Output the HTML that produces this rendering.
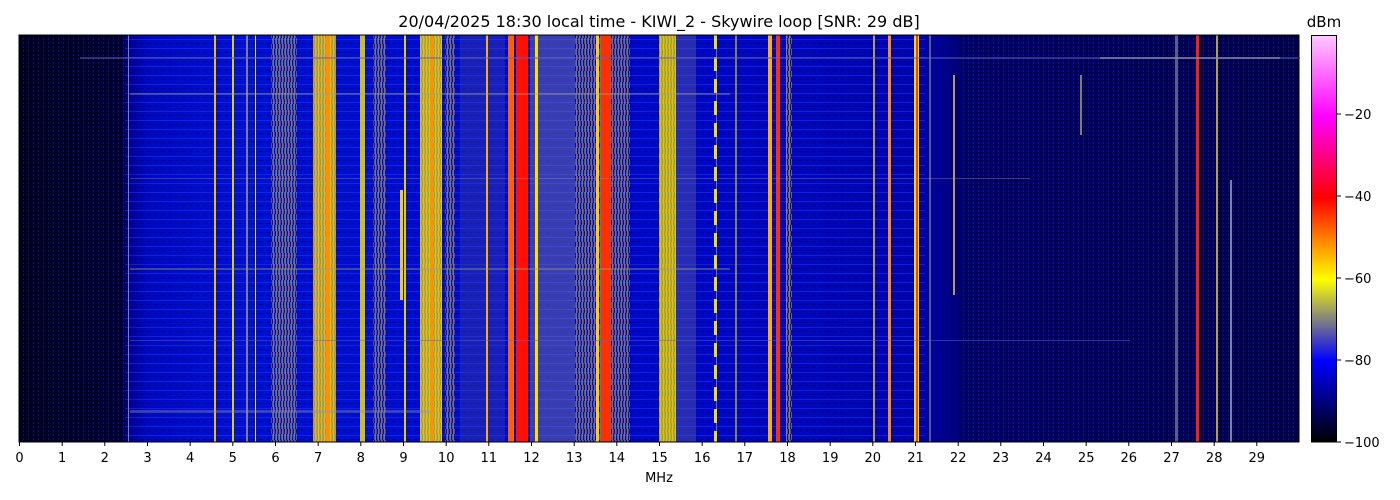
<!DOCTYPE html>
<html><head><meta charset="utf-8"><style>
body{margin:0;background:#fff;}
svg{display:block;font-family:"DejaVu Sans","Liberation Sans",sans-serif;}
</style></head><body>
<svg width="1400" height="500" viewBox="0 0 1400 500" xmlns="http://www.w3.org/2000/svg">
<defs>
<linearGradient id="bg" x1="0" x2="1" y1="0" y2="0">
<stop offset="0" stop-color="#000024"/>
<stop offset="0.08" stop-color="#000038"/>
<stop offset="0.085" stop-color="#000090"/>
<stop offset="0.1" stop-color="#0008c0"/>
<stop offset="0.17" stop-color="#0010d0"/>
<stop offset="0.5" stop-color="#0008c8"/>
<stop offset="0.7" stop-color="#0004b0"/>
<stop offset="0.74" stop-color="#000070"/>
<stop offset="0.9" stop-color="#00005c"/>
<stop offset="1" stop-color="#000050"/>
</linearGradient>
<linearGradient id="cb" x1="0" x2="0" y1="1" y2="0">
<stop offset="0" stop-color="#000000"/>
<stop offset="0.1" stop-color="#000080"/>
<stop offset="0.2" stop-color="#0000ff"/>
<stop offset="0.3" stop-color="#808080"/>
<stop offset="0.4" stop-color="#ffff00"/>
<stop offset="0.5" stop-color="#ff8000"/>
<stop offset="0.6" stop-color="#ff0000"/>
<stop offset="0.8" stop-color="#ff00ff"/>
<stop offset="1" stop-color="#ffc8ff"/>
</linearGradient>
<pattern id="hs" width="7" height="9" patternUnits="userSpaceOnUse">
<rect x="0" y="3" width="7" height="1" fill="#3050ff" opacity="0.35"/>
<rect x="0" y="7" width="4" height="1" fill="#000" opacity="0.3"/>
</pattern>
<pattern id="nz" width="5" height="4" patternUnits="userSpaceOnUse">
<rect x="0" y="0" width="2" height="2" fill="#000" opacity="0.45"/>
<rect x="3" y="2" width="1" height="2" fill="#2030d0" opacity="0.4"/>
</pattern>
<pattern id="vs" width="3" height="11" patternUnits="userSpaceOnUse">
<rect x="0" y="0" width="1" height="11" fill="#ffff00" opacity="0.5"/>
<rect x="1" y="0" width="1" height="5" fill="#ff8000" opacity="0.5"/>
<rect x="2" y="5" width="1" height="6" fill="#a0a050" opacity="0.6"/>
</pattern>
</defs>
<text x="659" y="27" font-size="16" text-anchor="middle">20/04/2025 18:30 local time - KIWI_2 - Skywire loop [SNR: 29 dB]</text>
<g>
<rect x="19" y="35" width="1280" height="407" fill="url(#bg)"/>
<rect x="19" y="35" width="107" height="407" fill="url(#nz)"/>
<rect x="960" y="35" width="339" height="407" fill="url(#nz)"/>
<rect x="125" y="35" width="800" height="407" fill="url(#hs)"/>
<g opacity="0.85">
<rect x="271" y="35" width="26" height="407" fill="url(#vs)"/>
<rect x="313" y="35" width="23" height="407" fill="#e0c020"/>
<rect x="313" y="35" width="23" height="407" fill="url(#vs)"/>
<rect x="360" y="35" width="5" height="407" fill="#f0e000"/>
<rect x="373" y="35" width="13" height="407" fill="url(#vs)"/>
<rect x="420" y="35" width="22" height="407" fill="#e8d010"/>
<rect x="420" y="35" width="22" height="407" fill="url(#vs)"/>
<rect x="445" y="35" width="10" height="407" fill="url(#vs)"/>
<rect x="460" y="35" width="45" height="407" fill="#4040a0" opacity="0.45"/>
<rect x="530" y="35" width="45" height="407" fill="#7070a0" opacity="0.6"/>
<rect x="575" y="35" width="55" height="407" fill="url(#vs)"/>
<rect x="659" y="35" width="17" height="407" fill="#e0d000"/>
<rect x="659" y="35" width="17" height="407" fill="url(#vs)"/>
<rect x="676" y="35" width="20" height="407" fill="#6060a0" opacity="0.5"/>
</g>
<rect x="508" y="35" width="6" height="407" fill="#ff6000"/>
<rect x="516" y="35" width="12" height="407" fill="#ff1000"/>
<rect x="535" y="35" width="3" height="407" fill="#ffe000"/>
<rect x="601" y="35" width="10" height="407" fill="#ff3000"/>
<rect x="596" y="35" width="3" height="407" fill="#ffd000"/>
<rect x="326" y="35" width="4" height="407" fill="#ff9000"/>
<rect x="430" y="35" width="3" height="407" fill="#ff9000"/>
<rect x="768" y="35" width="4" height="407" fill="#ffb000"/>
<rect x="776" y="35" width="4" height="407" fill="#ff3000"/>
<rect x="786" y="35" width="6" height="407" fill="url(#vs)"/>
<rect x="888" y="35" width="3" height="407" fill="#ff9000"/>
<rect x="914" y="35" width="5" height="407" fill="#f0e000"/>
<rect x="916" y="35" width="2" height="407" fill="#ff4000"/>
<rect x="1196" y="35" width="3" height="407" fill="#ff2000"/>
<rect x="1175" y="35" width="3" height="407" fill="#8080a0" opacity="0.7"/>
<rect x="1216" y="35" width="2" height="407" fill="#b0a040"/>
<rect x="1230" y="180" width="2" height="262" fill="#8080a0"/>
<rect x="714" y="35" width="3" height="407" fill="#f0e000"/>
<line x1="715" y1="35" x2="715" y2="442" stroke="#0008c8" stroke-width="3" stroke-dasharray="0 14 8 0"/>
<rect x="232" y="35" width="2" height="407" fill="#e0d000"/>
<rect x="214" y="35" width="2" height="407" fill="#f0c000"/>
<rect x="128" y="35" width="1" height="407" fill="#8080a0"/>
<rect x="246" y="35" width="2" height="407" fill="#808080"/>
<rect x="255" y="35" width="1" height="407" fill="#e0d000"/>
<rect x="400" y="190" width="3" height="110" fill="#f0d000"/>
<rect x="404" y="35" width="2" height="407" fill="#e0d000"/>
<rect x="486" y="35" width="2" height="407" fill="#ffb000"/>
<rect x="735" y="35" width="2" height="407" fill="#e0d000" opacity="0.6"/>
<rect x="873" y="35" width="2" height="407" fill="#b0a040"/>
<rect x="929" y="35" width="2" height="407" fill="#808080" opacity="0.7"/>
<rect x="953" y="75" width="2" height="220" fill="#b0a040"/>
<rect x="1080" y="75" width="2" height="60" fill="#808060"/>
<rect x="80" y="57" width="1220" height="2" fill="#6060c0" opacity="0.5"/>
<rect x="130" y="93" width="600" height="2" fill="#a0a080" opacity="0.4"/>
<rect x="130" y="178" width="900" height="1" fill="#a0a0a0" opacity="0.35"/>
<rect x="130" y="268" width="600" height="2" fill="#a0a080" opacity="0.4"/>
<rect x="130" y="340" width="1000" height="1" fill="#6060d0" opacity="0.5"/>
<rect x="130" y="410" width="300" height="3" fill="#9090b0" opacity="0.4"/>
<rect x="1100" y="57" width="180" height="2" fill="#9090a0" opacity="0.6"/>
<rect x="19" y="35" width="1280" height="407" fill="none" stroke="#000" stroke-width="1"/>
</g>
<g font-size="13" text-anchor="middle" fill="#000">
<g stroke="#000" stroke-width="1">
<line x1="19.5" y1="442" x2="19.5" y2="446"/><line x1="62.2" y1="442" x2="62.2" y2="446"/><line x1="104.8" y1="442" x2="104.8" y2="446"/><line x1="147.5" y1="442" x2="147.5" y2="446"/><line x1="190.2" y1="442" x2="190.2" y2="446"/><line x1="232.8" y1="442" x2="232.8" y2="446"/><line x1="275.5" y1="442" x2="275.5" y2="446"/><line x1="318.2" y1="442" x2="318.2" y2="446"/><line x1="360.8" y1="442" x2="360.8" y2="446"/><line x1="403.5" y1="442" x2="403.5" y2="446"/><line x1="446.2" y1="442" x2="446.2" y2="446"/><line x1="488.8" y1="442" x2="488.8" y2="446"/><line x1="531.5" y1="442" x2="531.5" y2="446"/><line x1="574.2" y1="442" x2="574.2" y2="446"/><line x1="616.8" y1="442" x2="616.8" y2="446"/><line x1="659.5" y1="442" x2="659.5" y2="446"/><line x1="702.2" y1="442" x2="702.2" y2="446"/><line x1="744.8" y1="442" x2="744.8" y2="446"/><line x1="787.5" y1="442" x2="787.5" y2="446"/><line x1="830.2" y1="442" x2="830.2" y2="446"/><line x1="872.8" y1="442" x2="872.8" y2="446"/><line x1="915.5" y1="442" x2="915.5" y2="446"/><line x1="958.2" y1="442" x2="958.2" y2="446"/><line x1="1000.8" y1="442" x2="1000.8" y2="446"/><line x1="1043.5" y1="442" x2="1043.5" y2="446"/><line x1="1086.2" y1="442" x2="1086.2" y2="446"/><line x1="1128.8" y1="442" x2="1128.8" y2="446"/><line x1="1171.5" y1="442" x2="1171.5" y2="446"/><line x1="1214.2" y1="442" x2="1214.2" y2="446"/><line x1="1256.8" y1="442" x2="1256.8" y2="446"/>
</g>
<text x="19.5" y="462">0</text><text x="62.2" y="462">1</text><text x="104.8" y="462">2</text><text x="147.5" y="462">3</text><text x="190.2" y="462">4</text><text x="232.8" y="462">5</text><text x="275.5" y="462">6</text><text x="318.2" y="462">7</text><text x="360.8" y="462">8</text><text x="403.5" y="462">9</text><text x="446.2" y="462">10</text><text x="488.8" y="462">11</text><text x="531.5" y="462">12</text><text x="574.2" y="462">13</text><text x="616.8" y="462">14</text><text x="659.5" y="462">15</text><text x="702.2" y="462">16</text><text x="744.8" y="462">17</text><text x="787.5" y="462">18</text><text x="830.2" y="462">19</text><text x="872.8" y="462">20</text><text x="915.5" y="462">21</text><text x="958.2" y="462">22</text><text x="1000.8" y="462">23</text><text x="1043.5" y="462">24</text><text x="1086.2" y="462">25</text><text x="1128.8" y="462">26</text><text x="1171.5" y="462">27</text><text x="1214.2" y="462">28</text><text x="1256.8" y="462">29</text>
<text x="659" y="482">MHz</text>
</g>
<rect x="1311.5" y="35.5" width="25" height="406.5" fill="url(#cb)" stroke="#000" stroke-width="1"/>
<text x="1324" y="27" font-size="15" text-anchor="middle">dBm</text>
<g stroke="#000"><line x1="1337" y1="114" x2="1341" y2="114"/><line x1="1337" y1="196" x2="1341" y2="196"/><line x1="1337" y1="278" x2="1341" y2="278"/><line x1="1337" y1="360" x2="1341" y2="360"/><line x1="1337" y1="442" x2="1341" y2="442"/></g>
<g font-size="13"><text x="1344" y="119">−20</text><text x="1344" y="201">−40</text><text x="1344" y="283">−60</text><text x="1344" y="365">−80</text><text x="1344" y="447">−100</text></g>
</svg>
</body></html>
